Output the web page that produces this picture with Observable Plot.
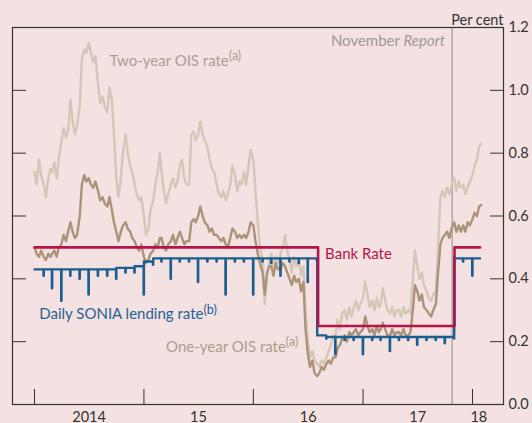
<!DOCTYPE html>
<html><head><meta charset="utf-8">
<script src="https://cdn.jsdelivr.net/npm/d3@7"></script>
<script src="https://cdn.jsdelivr.net/npm/@observablehq/plot@0.6"></script>
<style>
html,body{margin:0;padding:0;background:#f4e1e2;}
#chart svg{display:block;}
</style></head><body><div id="chart"></div>
<script>
// ---- DATA ----
// OIS rates: one row per month, values on days 1, 8, 16 and 23
const weekDays = [1, 8, 16, 23];
const ois2Monthly = [
["2014-01",0.74,0.70,0.78,0.73],["2014-02",0.70,0.66,0.72,0.75],["2014-03",0.74,0.77,0.72,0.78],
["2014-04",0.84,0.88,0.85,0.87],["2014-05",0.97,0.90,0.86,0.89],["2014-06",0.95,1.10,1.13,1.12],
["2014-07",1.15,1.12,1.09,1.11],["2014-08",1.02,0.96,0.98,0.95],["2014-09",0.93,1.01,0.97,0.86],
["2014-10",0.72,0.66,0.72,0.80],["2014-11",0.86,0.80,0.76,0.74],["2014-12",0.70,0.67,0.65,0.66],
["2015-01",0.60,0.54,0.56,0.62],["2015-02",0.65,0.70,0.74,0.80],["2015-03",0.74,0.68,0.64,0.67],
["2015-04",0.70,0.72,0.69,0.71],["2015-05",0.76,0.78,0.72,0.70],["2015-06",0.70,0.86,0.87,0.84],
["2015-07",0.86,0.90,0.86,0.84],["2015-08",0.82,0.78,0.75,0.74],["2015-09",0.70,0.67,0.66,0.68],
["2015-10",0.65,0.67,0.70,0.76],["2015-11",0.73,0.68,0.71,0.70],["2015-12",0.74,0.70,0.76,0.81],
["2016-01",0.78,0.68,0.58,0.50],["2016-02",0.46,0.32,0.42,0.45],["2016-03",0.48,0.44,0.47,0.45],
["2016-04",0.48,0.50,0.54,0.49],["2016-05",0.46,0.42,0.47,0.44],["2016-06",0.46,0.41,0.44,0.30],
["2016-07",0.20,0.15,0.17,0.14],["2016-08",0.13,0.12,0.14,0.13],["2016-09",0.15,0.17,0.19,0.22],
["2016-10",0.22,0.27,0.24,0.29],["2016-11",0.30,0.27,0.31,0.28],["2016-12",0.31,0.33,0.30,0.32],
["2017-01",0.34,0.39,0.35,0.31],["2017-02",0.33,0.30,0.34,0.31],["2017-03",0.32,0.37,0.33,0.30],
["2017-04",0.29,0.31,0.28,0.30],["2017-05",0.30,0.28,0.31,0.29],["2017-06",0.30,0.29,0.40,0.49],
["2017-07",0.44,0.40,0.42,0.38],["2017-08",0.36,0.34,0.33,0.35],["2017-09",0.36,0.50,0.66,0.68],
["2017-10",0.66,0.69,0.67,0.70],["2017-11",0.72,0.68,0.71,0.69],["2017-12",0.70,0.67,0.69,0.71],
["2018-01",0.73,0.76,0.78,0.82]
];
const ois2Last = ["2018-01-30", 0.83];

const ois1Monthly = [
["2014-01",0.50,0.48,0.47,0.49],["2014-02",0.47,0.46,0.48,0.47],["2014-03",0.48,0.49,0.47,0.50],
["2014-04",0.51,0.54,0.52,0.55],["2014-05",0.58,0.55,0.53,0.54],["2014-06",0.60,0.70,0.73,0.71],
["2014-07",0.72,0.70,0.69,0.71],["2014-08",0.68,0.65,0.66,0.64],["2014-09",0.63,0.66,0.62,0.58],
["2014-10",0.55,0.52,0.55,0.57],["2014-11",0.58,0.56,0.55,0.53],["2014-12",0.52,0.50,0.49,0.51],
["2015-01",0.47,0.45,0.46,0.48],["2015-02",0.49,0.51,0.50,0.53],["2015-03",0.53,0.50,0.49,0.51],
["2015-04",0.52,0.54,0.51,0.53],["2015-05",0.55,0.53,0.51,0.52],["2015-06",0.52,0.58,0.59,0.58],
["2015-07",0.60,0.63,0.60,0.58],["2015-08",0.57,0.55,0.56,0.54],["2015-09",0.54,0.53,0.52,0.53],
["2015-10",0.51,0.50,0.53,0.56],["2015-11",0.55,0.53,0.54,0.53],["2015-12",0.54,0.53,0.55,0.58],
["2016-01",0.57,0.52,0.48,0.45],["2016-02",0.42,0.35,0.42,0.44],["2016-03",0.44,0.41,0.45,0.43],
["2016-04",0.43,0.45,0.44,0.42],["2016-05",0.40,0.38,0.41,0.39],["2016-06",0.40,0.36,0.39,0.24],
["2016-07",0.16,0.12,0.14,0.10],["2016-08",0.09,0.10,0.12,0.11],["2016-09",0.13,0.14,0.13,0.15],
["2016-10",0.15,0.18,0.19,0.21],["2016-11",0.22,0.20,0.23,0.22],["2016-12",0.23,0.24,0.22,0.23],
["2017-01",0.24,0.28,0.25,0.23],["2017-02",0.24,0.22,0.25,0.23],["2017-03",0.24,0.26,0.24,0.22],
["2017-04",0.22,0.24,0.22,0.23],["2017-05",0.23,0.22,0.24,0.22],["2017-06",0.22,0.23,0.30,0.38],
["2017-07",0.36,0.33,0.35,0.31],["2017-08",0.30,0.29,0.28,0.30],["2017-09",0.32,0.42,0.51,0.53],
["2017-10",0.54,0.55,0.53,0.56],["2017-11",0.58,0.55,0.57,0.55],["2017-12",0.57,0.55,0.58,0.57],
["2018-01",0.59,0.61,0.60,0.63]
];
const ois1Last = ["2018-01-30", 0.635];

// Daily SONIA: per month [month, level, month-end value]
const soniaMonthly = [
["2014-01",0.43,0.41],["2014-02",0.43,0.37],["2014-03",0.43,0.33],["2014-04",0.43,0.41],
["2014-05",0.43,0.40],["2014-06",0.43,0.35],["2014-07",0.43,0.41],["2014-08",0.43,0.41],
["2014-09",0.43,0.40],["2014-10",0.435,0.42],["2014-11",0.435,0.42],["2014-12",0.44,0.35],
["2015-01",0.455,0.445],["2015-02",0.465,0.455],["2015-03",0.465,0.40],["2015-04",0.465,0.455],
["2015-05",0.465,0.455],["2015-06",0.465,0.39],["2015-07",0.465,0.455],["2015-08",0.465,0.455],
["2015-09",0.465,0.35],["2015-10",0.465,0.455],["2015-11",0.465,0.455],["2015-12",0.465,0.35],
["2016-01",0.465,0.455],["2016-02",0.465,0.45],["2016-03",0.465,0.41],["2016-04",0.465,0.455],
["2016-05",0.465,0.45],["2016-06",0.465,0.39],["2016-07",0.465,0.455],["2016-08",0.22,0.21],
["2016-09",0.215,0.16],["2016-10",0.215,0.205],["2016-11",0.215,0.205],["2016-12",0.215,0.16],
["2017-01",0.215,0.205],["2017-02",0.215,0.205],["2017-03",0.215,0.17],["2017-04",0.215,0.205],
["2017-05",0.215,0.205],["2017-06",0.215,0.19],["2017-07",0.215,0.205],["2017-08",0.215,0.205],
["2017-09",0.215,0.195],["2017-10",0.215,0.21],["2017-11",0.465,0.455],["2017-12",0.465,0.41],
["2018-01",0.465,0.465]
];
const soniaEnd = "2018-01-26";

// Bank Rate changes
const bankRateDates = ["2014-01-01","2016-08-04","2017-11-02","2018-01-26"];
const bankRateValues = [0.5, 0.25, 0.5, 0.5];

const novemberReport = "2017-10-25";
const yTicks = [0, 0.2, 0.4, 0.6, 0.8, 1.0, 1.2];
const yearTicks = ["2014-01-01","2015-01-01","2016-01-01","2017-01-01","2018-01-01"];
const yearLabelDates = ["2014-07-02","2015-07-02","2016-07-02","2017-07-02","2018-01-22"];
const yearLabels = ["2014","15","16","17","18"];

// ---- BUILD ----
const P = d3.utcParse("%Y-%m-%d");
const PM = d3.utcParse("%Y-%m");
const pad = n => String(n).padStart(2, "0");
function weekly(rows, last) {
  const pts = rows.flatMap(([m, ...vs]) => vs.map((v, i) => ({date: P(`${m}-${pad(weekDays[i])}`), value: v})));
  pts.push({date: P(last[0]), value: last[1]});
  return pts;
}
const ois2 = weekly(ois2Monthly, ois2Last);
const ois1 = weekly(ois1Monthly, ois1Last);

const endS = P(soniaEnd);
const sonia = [];
for (const [m, a, e] of soniaMonthly) {
  const s = PM(m);
  const end = d3.utcDay.offset(d3.utcMonth.offset(s, 1), -1);
  for (const p of [{date: s, value: a}, {date: end, value: e}]) if (p.date < endS) sonia.push(p);
}
sonia.push({date: endS, value: sonia[sonia.length - 1].value});

const bank = bankRateDates.map((d, i) => ({date: P(d), value: bankRateValues[i]}));
const labelMap = new Map(yearLabelDates.map((d, i) => [+P(d), yearLabels[i]]));
const ann = {fontSize: 15};

const chart = Plot.plot({
  width: 532, height: 423,
  marginLeft: 12, marginRight: 29, marginTop: 27, marginBottom: 19,
  style: {fontFamily: "Lato, sans-serif", fontSize: "14px", background: "#f4e1e2", color: "#333"},
  x: {type: "utc", domain: [P(yearTicks[0]), P(yearTicks[4])], range: [34, 472]},
  y: {domain: [0, 1.2], range: [404, 27]},
  marks: [
    Plot.ruleX([P(novemberReport)], {stroke: "#8f8c8c", strokeWidth: 1}),
    Plot.lineY(ois2, {x: "date", y: "value", stroke: "#d4c7b7", strokeWidth: 2.4}),
    Plot.lineY(ois1, {x: "date", y: "value", stroke: "#ab9378", strokeWidth: 2.4}),
    Plot.lineY(sonia, {x: "date", y: "value", stroke: "#1b5e8f", strokeWidth: 2.4, curve: "step-after"}),
    Plot.lineY(bank, {x: "date", y: "value", stroke: "#b3154b", strokeWidth: 2.6, curve: "step-after"}),
    Plot.axisY({anchor: "right", ticks: yTicks, tickSize: -14, tickPadding: 19, tickFormat: d3.format(".1f"), label: null, stroke: "#333", fontSize: 14.5}),
    Plot.axisY({anchor: "left", ticks: yTicks, tickSize: -14, tickFormat: () => "", label: null, stroke: "#333"}),
    Plot.axisX({anchor: "bottom", ticks: yearTicks.map(P), tickSize: -15, tickFormat: () => "", label: null, stroke: "#333"}),
    Plot.axisX({anchor: "bottom", ticks: yearLabelDates.map(P), tickSize: 0, tickPadding: 7, tickFormat: d => labelMap.get(+d), label: null, fontSize: 14.5}),
    Plot.frame({stroke: "#333", strokeWidth: 1.2}),
    Plot.text(["Per cent"], {frameAnchor: "top-right", dy: -13, textAnchor: "end", fill: "#333", fontSize: 14.5}),
    Plot.text(["November Report"], {x: P(novemberReport), y: 1.2, dx: -7, dy: 14, textAnchor: "end", fill: "#9d9a99", ...ann}),
    Plot.text(["Two-year OIS rate(a)"], {x: P("2014-09-08"), y: 1.093, textAnchor: "start", fill: "#aa9f95", ...ann}),
    Plot.text(["One-year OIS rate(a)"], {x: P("2015-03-16"), y: 0.184, textAnchor: "start", fill: "#ae9c8a", ...ann}),
    Plot.text(["Bank Rate"], {x: P("2016-08-04"), y: 0.5, dx: 7, dy: 7, textAnchor: "start", fill: "#b3154b", ...ann}),
    Plot.text(["Daily SONIA lending rate(b)"], {x: P("2014-01-17"), y: 0.287, textAnchor: "start", fill: "#1f6394", ...ann})
  ]
});

// superscripts and italic "Report"
d3.select(chart).selectAll("text").each(function() {
  const t = this.textContent;
  const m = t.match(/^(.*)(\([ab]\))$/);
  const el = d3.select(this);
  if (m) {
    el.text(m[1]);
    el.append("tspan").attr("dy", "-0.45em").attr("font-size", "12.5px").text(m[2]);
  } else if (t === "November Report") {
    el.text("November ");
    el.append("tspan").attr("font-style", "italic").text("Report");
  }
});
document.getElementById("chart").appendChild(chart);
</script>
</body></html>
